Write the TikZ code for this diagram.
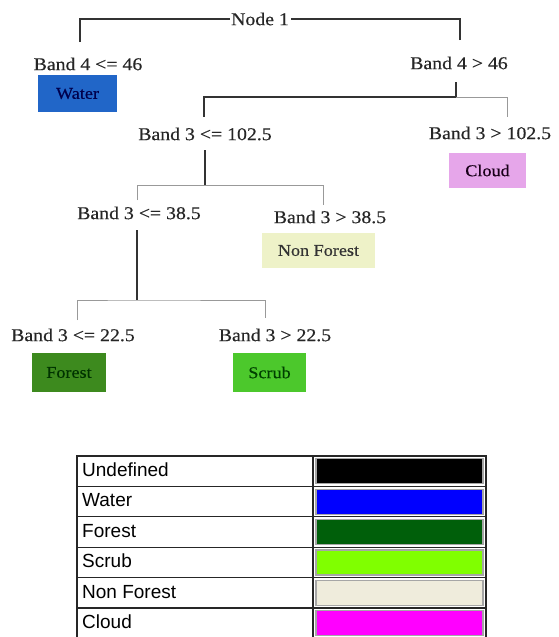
\documentclass[tikz,border=0pt]{standalone}
\usepackage{fontspec}
\setmainfont{Liberation Serif}
\newfontfamily\treefont[FakeStretch=1.1,FakeBold=0.4]{Liberation Serif}
\newfontfamily\legendfont{Liberation Sans}
\definecolor{waterbox}{HTML}{2166C8}
\definecolor{cloudbox}{HTML}{E6A6EA}
\definecolor{nonforestbox}{HTML}{EEF2C8}
\definecolor{forestbox}{HTML}{3D8A1E}
\definecolor{scrubbox}{HTML}{4CC82C}
\definecolor{lgblack}{HTML}{000000}
\definecolor{lgblue}{HTML}{0000FF}
\definecolor{lgforest}{HTML}{005F0A}
\definecolor{lgscrub}{HTML}{80FF00}
\definecolor{lgnonforest}{HTML}{EFECDC}
\definecolor{lgcloud}{HTML}{FF00FF}
\begin{document}
\begin{tikzpicture}[x=1pt,y=-1pt,
  lbl/.style={font=\treefont\fontsize{18}{20}\selectfont, inner sep=0pt, text=black!85},
  clsbox/.style={inner sep=0pt, font=\treefont\fontsize{16.5}{18}\selectfont},
  dk/.style={draw=black!80, line width=1.2pt},
  lt/.style={draw=black!40, line width=0.8pt},
  tbl/.style={draw=black!85, line width=1.2pt},
  lgtext/.style={anchor=west, inner sep=0pt, font=\legendfont\fontsize{19}{21}\selectfont},
  swatch/.style={draw=black!35, line width=1.2pt, minimum width=167pt, minimum height=25pt, inner sep=0pt}
]
\useasboundingbox (0,0) rectangle (558,637);
\clip (0,0) rectangle (558,637);

% ---------- tree labels ----------
\node[lbl] (n1) at (260,19) {Node 1};
\node[lbl] (b4le) at (88,64) {Band 4 <= 46};
\node[lbl] (b4gt) at (459,63) {Band 4 > 46};
\node[lbl] (b3le102) at (205,134) {Band 3 <= 102.5};
\node[lbl] (b3gt102) at (490,133) {Band 3 > 102.5};
\node[lbl] (b3le38) at (139,213) {Band 3 <= 38.5};
\node[lbl] (b3gt38) at (330,217) {Band 3 > 38.5};
\node[lbl] (b3le22) at (73,335) {Band 3 <= 22.5};
\node[lbl] (b3gt22) at (275,335) {Band 3 > 22.5};

% ---------- class boxes ----------
\node[clsbox, fill=waterbox, text=blue!30!black, minimum width=79pt, minimum height=37pt] (water) at (77.5,93.5) {Water};
\node[clsbox, fill=cloudbox, text=black!80!violet, minimum width=77pt, minimum height=35pt] (cloud) at (487.5,170.5) {Cloud};
\node[clsbox, fill=nonforestbox, text=black!80, minimum width=113pt, minimum height=35pt] (nonforest) at (318.5,250.5) {Non Forest};
\node[clsbox, fill=forestbox, text=black!80!green, minimum width=74pt, minimum height=39pt] (forest) at (69,372.5) {Forest};
\node[clsbox, fill=scrubbox, text=black!75!green, minimum width=73pt, minimum height=39pt] (scrub) at (269.5,372.5) {Scrub};

% ---------- connector end points ----------
\coordinate (a1) at (80,42);
\coordinate (a2) at (460,40);
\coordinate (a3) at (456,82);
\coordinate (j1) at (456,97);
\coordinate (a4) at (204,117);
\coordinate (a5) at (507,117);
\coordinate (a6) at (205,150);
\coordinate (j2) at (205,185);
\coordinate (j2l) at (137,185);
\coordinate (j2r) at (323,185);
\coordinate (a7) at (137,200);
\coordinate (a8) at (323,205);
\coordinate (a9) at (137,230);
\coordinate (j3) at (137,300);
\coordinate (a10) at (77,320);
\coordinate (a11) at (265,318);

% ---------- connectors ----------
\draw[dk] (a1) |- ([xshift=-1pt]n1.west);
\draw[dk] (a2) |- ([xshift=2pt]n1.east);
\draw[dk] (a3) -- (j1) -| (a4);
\draw[lt] (j1) -| (a5);
\draw[dk] (a6) -- (j2);
\draw[lt] (a7) -- (j2l) -- (j2r) -- (a8);
\draw[dk] (a9) -- (j3);
\draw[lt] (a10) |- (j3) -| (a11);

% ---------- legend ----------
\draw[tbl] (77,456) rectangle (486,638.5);
\foreach \yy in {486.4,516.8,547.2,577.6,608} {\draw[tbl] (77,\yy) -- (486,\yy);}
\draw[tbl] (313,456) -- (313,638.5);

\node[lgtext] (lu) at (82,470) {Undefined};
\node[lgtext] (lw) at (82,500.4) {Water};
\node[lgtext] (lf) at (82,530.8) {Forest};
\node[lgtext] (ls) at (82,561.2) {Scrub};
\node[lgtext] (ln) at (82,591.6) {Non Forest};
\node[lgtext] (lc) at (82,622) {Cloud};

\node[swatch, fill=lgblack] (su) at (399.5,471.2) {};
\node[swatch, fill=lgblue] (sw) at (399.5,501.6) {};
\node[swatch, fill=lgforest] (sf) at (399.5,532) {};
\node[swatch, fill=lgscrub] (ss) at (399.5,562.4) {};
\node[swatch, fill=lgnonforest] (sn) at (399.5,592.8) {};
\node[swatch, fill=lgcloud] (sc) at (399.5,623.2) {};
\end{tikzpicture}
\end{document}
